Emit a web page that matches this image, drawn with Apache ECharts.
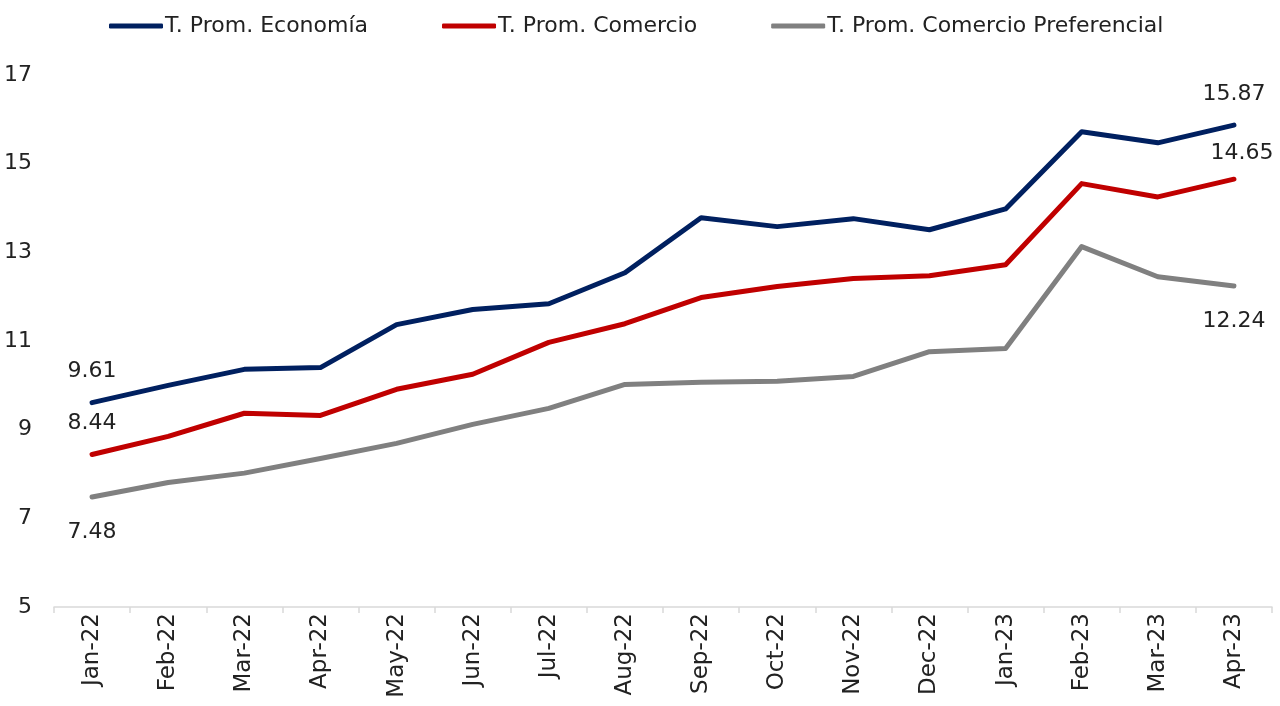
<!DOCTYPE html>
<html>
<head>
<meta charset="utf-8">
<script src="https://cdn.jsdelivr.net/npm/echarts@6/dist/echarts.min.js"></script>
<style>
  html, body { margin: 0; padding: 0; background: #fff; }
  #chart { width: 1280px; height: 706px; }
</style>
</head>
<body>
<div id="chart"></div>
<script>
const months = ['Jan-22', 'Feb-22', 'Mar-22', 'Apr-22', 'May-22', 'Jun-22', 'Jul-22', 'Aug-22',
  'Sep-22', 'Oct-22', 'Nov-22', 'Dec-22', 'Jan-23', 'Feb-23', 'Mar-23', 'Apr-23']

const economia = [9.61, 10.0, 10.36, 10.40, 11.37, 11.71, 11.84, 12.54, 13.78, 13.58, 13.76, 13.51, 13.98, 15.72, 15.47, 15.87]
const comercio = [8.44, 8.85, 9.37, 9.32, 9.91, 10.25, 10.97, 11.39, 11.98, 12.23, 12.41, 12.47, 12.72, 14.55, 14.25, 14.65]
const preferencial = [7.48, 7.81, 8.02, 8.35, 8.69, 9.12, 9.48, 10.02, 10.07, 10.09, 10.20, 10.76, 10.83, 13.13, 12.45, 12.24]

const FONT = 'DejaVu Sans'
const myChart = echarts.init(document.getElementById('chart'))

// only first and last points get a value label
const endLabels = (arr, pos, dist) => arr.map((v, i) => {
  if (i === 0 || i === arr.length - 1) {
    return { value: v, label: { show: true, position: pos, distance: dist } }
  }
  return v
})

const lineSeries = (name, color, data, pos, dist) => ({
  name,
  type: 'line',
  data: endLabels(data, pos, dist),
  symbol: 'circle',
  symbolSize: 0,
  lineStyle: { color, width: 5, cap: 'round', join: 'round' },
  itemStyle: { color },
  label: {
    show: false,
    fontFamily: FONT,
    fontSize: 22,
    color: '#222',
    formatter: p => p.value.toFixed(2)
  }
})

const series = [
  lineSeries('T. Prom. Economía', '#002060', economia, 'top', 20),
  lineSeries('T. Prom. Comercio', '#c00000', comercio, 'top', 20),
  lineSeries('T. Prom. Comercio Preferencial', '#808080', preferencial, 'bottom', 24)
]
// the 14.65 label sits a bit closer and to the right
const last = comercio.length - 1
series[1].data[last].label.distance = 13
series[1].data[last].label.offset = [8, -2]

const option = {
  backgroundColor: '#fff',
  animation: false,
  legend: {
    top: 10,
    left: 104,
    itemWidth: 54,
    itemHeight: 5,
    itemGap: 74,
    icon: 'roundRect',
    textStyle: { fontFamily: FONT, fontSize: 22, color: '#222', padding: [0, 0, 0, -3] },
    data: series.map(s => s.name)
  },
  grid: { left: 54, right: 8, top: 75, bottom: 99 },
  xAxis: {
    type: 'category',
    data: months,
    boundaryGap: true,
    axisLine: { lineStyle: { color: '#d9d9d9', width: 1.5 } },
    axisTick: { show: true, length: 6, lineStyle: { color: '#d9d9d9', width: 1.5 } },
    axisLabel: {
      rotate: 90,
      interval: 0,
      margin: 6,
      fontFamily: FONT,
      fontSize: 23,
      color: '#222'
    }
  },
  yAxis: {
    type: 'value',
    min: 5,
    max: 17,
    interval: 2,
    axisLine: { show: false },
    axisTick: { show: false },
    splitLine: { show: false },
    axisLabel: { margin: 22, fontFamily: FONT, fontSize: 22, color: '#222' }
  },
  series
}

myChart.setOption(option)
window.addEventListener('resize', () => myChart.resize())
</script>
</body>
</html>
